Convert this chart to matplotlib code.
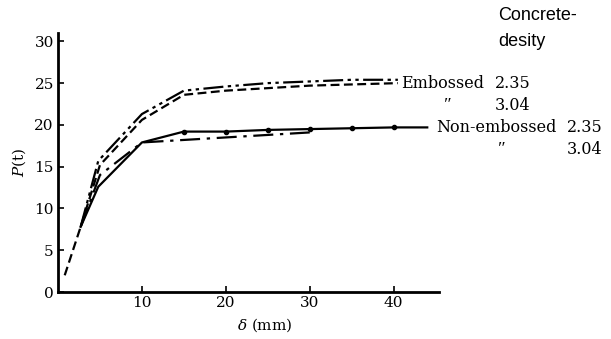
import matplotlib
matplotlib.use("Agg")
import matplotlib.pyplot as plt

plt.rcParams['font.family'] = ['DejaVu Serif']
plt.rcParams['mathtext.fontset'] = 'dejavuserif'

# Embossed, concrete density 2.35
emb235_x = [2.7, 4.8, 10, 15, 20, 25, 30, 35, 40.5]
emb235_y = [7.8, 15.7, 21.3, 24.1, 24.6, 25.0, 25.2, 25.4, 25.4]
# Embossed, concrete density 3.04
emb304_x = [0.8, 2.7, 5, 10, 15, 20, 25, 30, 40.5]
emb304_y = [2.0, 7.8, 15.2, 20.6, 23.6, 24.1, 24.4, 24.7, 25.0]
# Non-embossed, concrete density 2.35
non235_x = [2.7, 4.8, 10, 15, 20, 25, 30, 35, 40, 44]
non235_y = [7.8, 12.6, 17.9, 19.2, 19.2, 19.4, 19.5, 19.6, 19.7, 19.7]
non235_mx = [15, 20, 25, 30, 35, 40]
non235_my = [19.2, 19.2, 19.4, 19.5, 19.6, 19.7]
# Non-embossed, concrete density 3.04
non304_x = [2.7, 5, 10, 15, 20, 25, 30]
non304_y = [7.8, 14.0, 17.9, 18.2, 18.5, 18.8, 19.1]

xticks = [10, 20, 30, 40]
yticks = [0, 5, 10, 15, 20, 25, 30]

W, H = 611, 339
fig = plt.figure(figsize=(W / 100, H / 100), dpi=100)
ax = fig.add_axes([58 / W, 1 - 292 / H, (439 - 58) / W, (292 - 33) / H])

lw = 1.6
ax.plot(emb235_x, emb235_y, color='black', lw=lw, linestyle=(0, (9, 2, 1.5, 2, 1.5, 2)))
ax.plot(emb304_x, emb304_y, color='black', lw=lw, linestyle=(0, (4, 2)))
ax.plot(non235_x, non235_y, color='black', lw=lw, linestyle='-')
ax.plot(non235_mx, non235_my, color='black', lw=0, marker='o', markersize=3)
ax.plot(non304_x, non304_y, color='black', lw=lw, linestyle=(0, (9, 3, 1.5, 3)))

ax.set_xlim(0, 45.4)
ax.set_ylim(0, 31)
ax.set_xticks(xticks)
ax.set_yticks(yticks)
ax.tick_params(direction='in', length=4, width=1.2, labelsize=11, pad=3)
for s in ['top', 'right']:
    ax.spines[s].set_visible(False)
for s in ['left', 'bottom']:
    ax.spines[s].set_linewidth(2)

ax.set_xlabel(r'$\delta$ (mm)', fontsize=11)
ax.xaxis.set_label_coords((265 - 58) / 381, -0.095)
ax.set_ylabel(r'$P$(t)', fontsize=11)
ax.yaxis.set_label_coords(-0.078, 0.5)

def ftext(x, y, s, **kw):
    kw.setdefault('fontsize', 11.5)
    fig.text(x / W, 1 - y / H, s, va='center', ha='left', **kw)

ftext(498, 15, 'Concrete-', family=['Liberation Sans', 'DejaVu Sans'], fontsize=13)
ftext(498, 41, 'desity', family=['Liberation Sans', 'DejaVu Sans'], fontsize=13)
ftext(401, 83, 'Embossed')
ftext(495, 83, '2.35')
ftext(443, 106, '\u2033', family=['Liberation Serif', 'DejaVu Serif'], style='italic', fontsize=13)
ftext(495, 105, '3.04')
ftext(436, 127, 'Non-embossed')
ftext(567, 127, '2.35')
ftext(497, 150, '\u2033', family=['Liberation Serif', 'DejaVu Serif'], style='italic', fontsize=13)
ftext(567, 149, '3.04')

fig.savefig('out.png', dpi=100)
